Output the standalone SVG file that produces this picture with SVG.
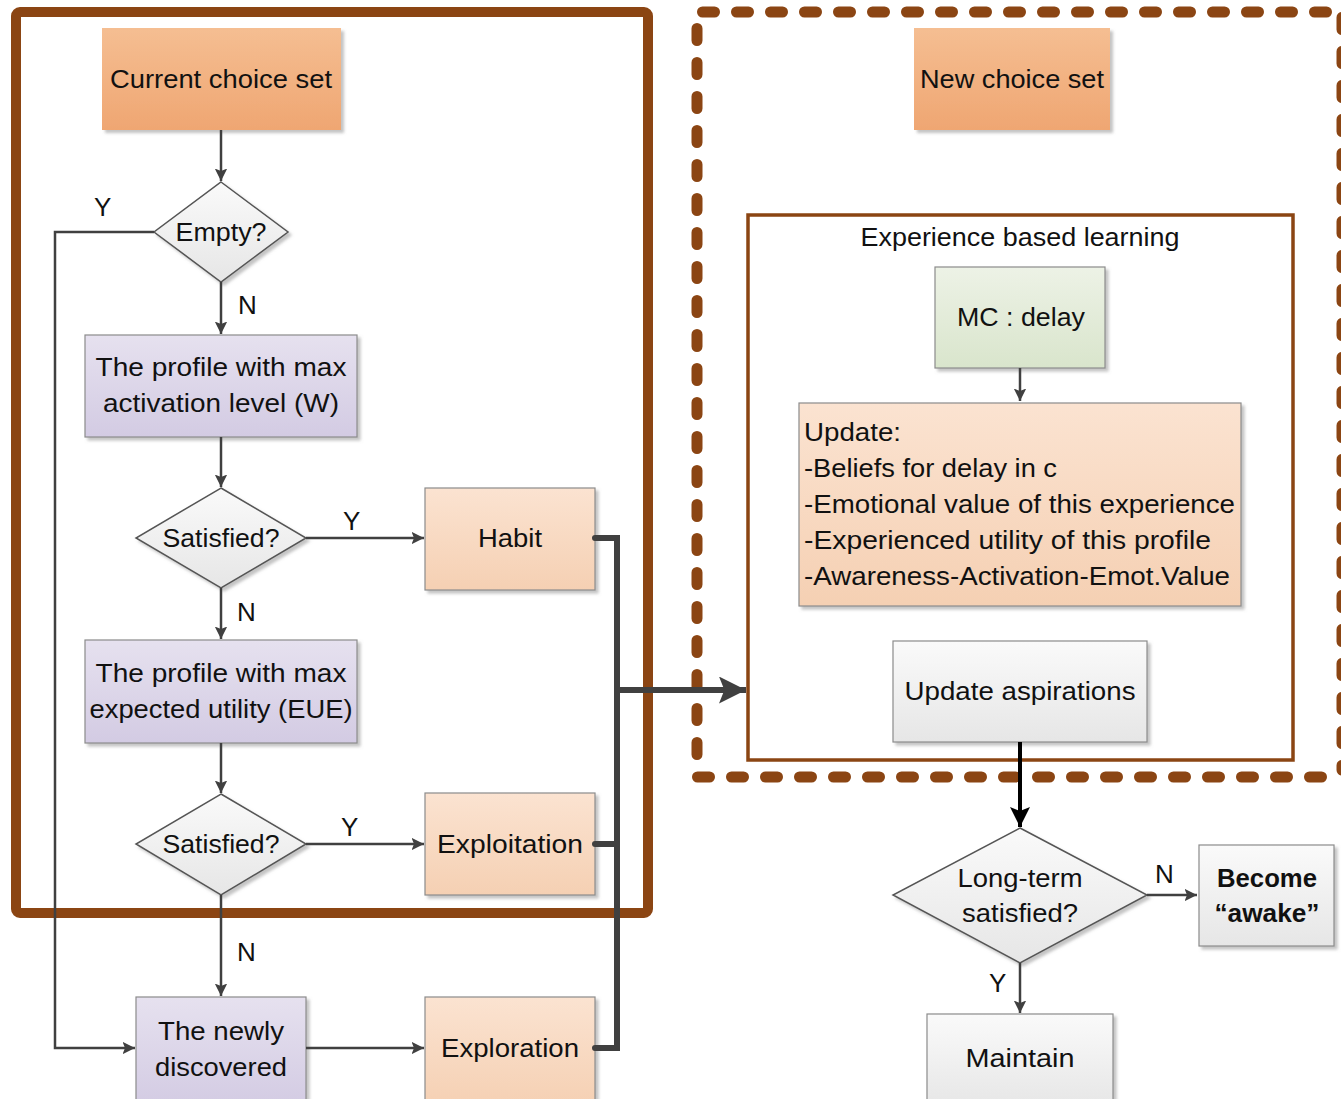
<svg xmlns="http://www.w3.org/2000/svg" width="1341" height="1099" viewBox="0 0 1341 1099">
  <defs>
    <linearGradient id="gOrange" x1="0" y1="0" x2="0" y2="1">
      <stop offset="0" stop-color="#F5BE92"/>
      <stop offset="1" stop-color="#EFA672"/>
    </linearGradient>
    <linearGradient id="gPeach" x1="0" y1="0" x2="0" y2="1">
      <stop offset="0" stop-color="#FBE3D1"/>
      <stop offset="1" stop-color="#F5D0B3"/>
    </linearGradient>
    <linearGradient id="gPurple" x1="0" y1="0" x2="0" y2="1">
      <stop offset="0" stop-color="#E6E1EF"/>
      <stop offset="1" stop-color="#D3CBE3"/>
    </linearGradient>
    <linearGradient id="gGreen" x1="0" y1="0" x2="0" y2="1">
      <stop offset="0" stop-color="#EDF2E6"/>
      <stop offset="1" stop-color="#D9E5CC"/>
    </linearGradient>
    <linearGradient id="gGray" x1="0" y1="0" x2="0" y2="1">
      <stop offset="0" stop-color="#FAFAFA"/>
      <stop offset="1" stop-color="#E6E6E6"/>
    </linearGradient>
    <filter id="shadow" x="-10%" y="-10%" width="130%" height="130%">
      <feDropShadow dx="3" dy="3" stdDeviation="1.5" flood-color="#888" flood-opacity="0.5"/>
    </filter>
    <marker id="arrow" viewBox="0 0 10 10" refX="10" refY="5" markerWidth="5" markerHeight="5" orient="auto" markerUnits="strokeWidth">
      <path d="M0,0 L10,5 L0,10 L2,5 Z" fill="#404040"/>
    </marker>
    <marker id="arrowBig" viewBox="0 0 10 10" refX="10" refY="5" markerWidth="4.5" markerHeight="4.5" orient="auto" markerUnits="strokeWidth">
      <path d="M0,0 L10,5 L0,10 L2,5 Z" fill="#404040"/>
    </marker>
    <marker id="arrowBlack" viewBox="0 0 10 10" refX="10" refY="5" markerWidth="5" markerHeight="5" orient="auto" markerUnits="strokeWidth">
      <path d="M0,0 L10,5 L0,10 L2,5 Z" fill="#000"/>
    </marker>
  </defs>
  <style>
    text { font-family: "Liberation Sans", Arial, sans-serif; font-size: 26px; fill: #111; }
    .c { text-anchor: middle; }
    .b { font-weight: bold; }
    .box { stroke: #8C8C8C; stroke-width: 1.2; filter: url(#shadow); }
    .plain { stroke: none; filter: url(#shadow); }
    .dia { fill: url(#gGray); stroke: #555; stroke-width: 1.5; filter: url(#shadow); }
    .conn { fill: none; stroke: #404040; stroke-width: 2.5; }
    .thick { fill: none; stroke: #404040; stroke-width: 6; stroke-linejoin: miter; }
    .frame { fill: none; stroke: #8B4513; }
    .dash { fill: none; stroke: #8B4513; stroke-width: 11; stroke-linecap: round; stroke-dasharray: 12 22; }
  </style>

  <rect width="1341" height="1099" fill="#fff"/>

  <!-- frames -->
  <g id="frames">
    <rect class="frame" x="16" y="12" width="632" height="901" rx="4" stroke-width="10"/>
    <path class="dash" d="M702.5,12 L1341,12"/>
    <path class="dash" d="M697,28.5 L697,770"/>
    <path class="dash" d="M697.5,777 L1341,777"/>
    <path class="dash" d="M1342,17.5 L1342,770"/>
    <rect class="frame" x="748" y="215" width="545" height="545" stroke-width="3.5"/>
    <text class="c" x="1020" y="246" textLength="319" lengthAdjust="spacingAndGlyphs">Experience based learning</text>
  </g>

  <!-- nodes -->
  <g id="current-choice-set">
    <rect class="plain" x="102" y="28" width="239" height="102" fill="url(#gOrange)"/>
    <text class="c" x="221" y="88" textLength="222" lengthAdjust="spacingAndGlyphs">Current choice set</text>
  </g>
  <g id="empty">
    <polygon class="dia" points="221,182 288,232 221,282 154,232"/>
    <text class="c" x="221" y="241" textLength="91" lengthAdjust="spacingAndGlyphs">Empty?</text>
  </g>
  <g id="profile-activation">
    <rect class="box" x="85" y="335" width="272" height="102" fill="url(#gPurple)"/>
    <text class="c" x="221" y="376" textLength="251" lengthAdjust="spacingAndGlyphs">The profile with max</text>
    <text class="c" x="221" y="412" textLength="236" lengthAdjust="spacingAndGlyphs">activation level (W)</text>
  </g>
  <g id="satisfied-1">
    <polygon class="dia" points="221,488 306,538 221,588 136,538"/>
    <text class="c" x="221" y="547" textLength="117" lengthAdjust="spacingAndGlyphs">Satisfied?</text>
  </g>
  <g id="habit">
    <rect class="box" x="425" y="488" width="170" height="102" fill="url(#gPeach)"/>
    <text class="c" x="510" y="547" textLength="64" lengthAdjust="spacingAndGlyphs">Habit</text>
  </g>
  <g id="profile-eue">
    <rect class="box" x="85" y="640" width="272" height="103" fill="url(#gPurple)"/>
    <text class="c" x="221" y="682" textLength="251" lengthAdjust="spacingAndGlyphs">The profile with max</text>
    <text class="c" x="221" y="718" textLength="263" lengthAdjust="spacingAndGlyphs">expected utility (EUE)</text>
  </g>
  <g id="satisfied-2">
    <polygon class="dia" points="221,794 306,844 221,895 136,844"/>
    <text class="c" x="221" y="853" textLength="117" lengthAdjust="spacingAndGlyphs">Satisfied?</text>
  </g>
  <g id="exploitation">
    <rect class="box" x="425" y="793" width="170" height="102" fill="url(#gPeach)"/>
    <text class="c" x="510" y="853" textLength="146" lengthAdjust="spacingAndGlyphs">Exploitation</text>
  </g>
  <g id="newly-discovered">
    <rect class="box" x="136" y="997" width="170" height="110" fill="url(#gPurple)"/>
    <text class="c" x="221" y="1040" textLength="126" lengthAdjust="spacingAndGlyphs">The newly</text>
    <text class="c" x="221" y="1076" textLength="132" lengthAdjust="spacingAndGlyphs">discovered</text>
  </g>
  <g id="exploration">
    <rect class="box" x="425" y="997" width="170" height="110" fill="url(#gPeach)"/>
    <text class="c" x="510" y="1057" textLength="138" lengthAdjust="spacingAndGlyphs">Exploration</text>
  </g>
  <g id="new-choice-set">
    <rect class="plain" x="914" y="28" width="196" height="102" fill="url(#gOrange)"/>
    <text class="c" x="1012" y="88" textLength="184" lengthAdjust="spacingAndGlyphs">New choice set</text>
  </g>
  <g id="mc-delay">
    <rect class="box" x="935" y="267" width="170" height="101" fill="url(#gGreen)"/>
    <text class="c" x="1021" y="326" textLength="128" lengthAdjust="spacingAndGlyphs">MC : delay</text>
  </g>
  <g id="update">
    <rect class="box" x="799" y="403" width="442" height="203" fill="url(#gPeach)"/>
    <text x="804" y="441" textLength="97" lengthAdjust="spacingAndGlyphs">Update:</text>
    <text x="804" y="477" textLength="253" lengthAdjust="spacingAndGlyphs">-Beliefs for delay in c</text>
    <text x="804" y="513" textLength="431" lengthAdjust="spacingAndGlyphs">-Emotional value of this experience</text>
    <text x="804" y="549" textLength="407" lengthAdjust="spacingAndGlyphs">-Experienced utility of this profile</text>
    <text x="804" y="585" textLength="426" lengthAdjust="spacingAndGlyphs">-Awareness-Activation-Emot.Value</text>
  </g>
  <g id="update-aspirations">
    <rect class="box" x="893" y="641" width="254" height="101" fill="url(#gGray)"/>
    <text class="c" x="1020" y="700" textLength="231" lengthAdjust="spacingAndGlyphs">Update aspirations</text>
  </g>
  <g id="long-term">
    <polygon class="dia" points="1020,828 1147,895 1020,963 893,895"/>
    <text class="c" x="1020" y="887" textLength="125" lengthAdjust="spacingAndGlyphs">Long-term</text>
    <text class="c" x="1020" y="922" textLength="116" lengthAdjust="spacingAndGlyphs">satisfied?</text>
  </g>
  <g id="become-awake">
    <rect class="box" x="1199" y="845" width="135" height="101" fill="url(#gGray)"/>
    <text class="c b" x="1267" y="887" textLength="100" lengthAdjust="spacingAndGlyphs">Become</text>
    <text class="c b" x="1267" y="922" textLength="105" lengthAdjust="spacingAndGlyphs">“awake”</text>
  </g>
  <g id="maintain">
    <rect class="box" x="927" y="1014" width="186" height="95" fill="url(#gGray)"/>
    <text class="c" x="1020" y="1067" textLength="109" lengthAdjust="spacingAndGlyphs">Maintain</text>
  </g>

  <!-- connectors -->
  <g id="connectors">
    <path class="conn" d="M221,130 L221,181" marker-end="url(#arrow)"/>
    <path class="conn" d="M154,232 L55,232 L55,1048 L135,1048" marker-end="url(#arrow)"/>
    <path class="conn" d="M221,282 L221,334" marker-end="url(#arrow)"/>
    <path class="conn" d="M221,437 L221,487" marker-end="url(#arrow)"/>
    <path class="conn" d="M306,538 L424,538" marker-end="url(#arrow)"/>
    <path class="conn" d="M221,588 L221,639" marker-end="url(#arrow)"/>
    <path class="conn" d="M221,743 L221,793" marker-end="url(#arrow)"/>
    <path class="conn" d="M306,844 L424,844" marker-end="url(#arrow)"/>
    <path class="conn" d="M221,895 L221,996" marker-end="url(#arrow)"/>
    <path class="conn" d="M306,1048 L424,1048" marker-end="url(#arrow)"/>
    <path class="thick" d="M595,538 L617,538 L617,1048 L595,1048" stroke-linecap="round"/>
    <path class="thick" d="M595,844 L617,844" stroke-linecap="round"/>
    <path class="thick" d="M617,690 L746,690" marker-end="url(#arrowBig)"/>
    <path class="conn" d="M1020,368 L1020,401" marker-end="url(#arrow)"/>
    <path fill="none" stroke="#000" stroke-width="4" d="M1020,742 L1020,827" marker-end="url(#arrowBlack)"/>
    <path class="conn" d="M1147,895 L1197,895" marker-end="url(#arrow)"/>
    <path class="conn" d="M1020,963 L1020,1013" marker-end="url(#arrow)"/>
  </g>

  <!-- branch labels -->
  <g id="labels">
    <text x="94" y="216">Y</text>
    <text x="238" y="314">N</text>
    <text x="343" y="530">Y</text>
    <text x="237" y="621">N</text>
    <text x="341" y="836">Y</text>
    <text x="237" y="961">N</text>
    <text x="1155" y="883">N</text>
    <text x="989" y="992">Y</text>
  </g>
</svg>
